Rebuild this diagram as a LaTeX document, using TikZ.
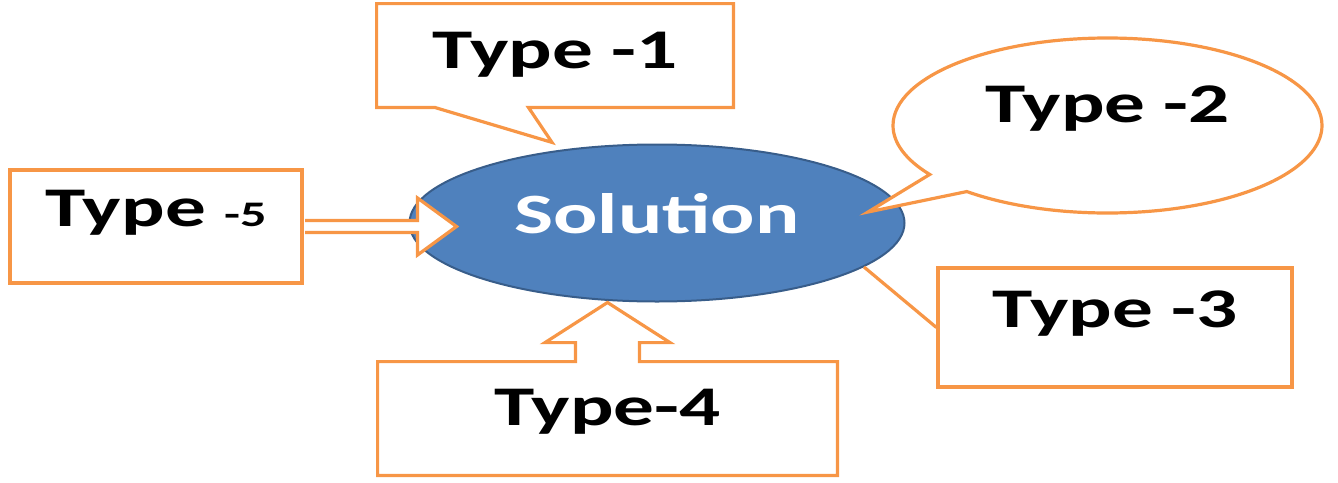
\documentclass[tikz,border=0pt]{standalone}
\usepackage{fontspec}
\setmainfont{Carlito}[FakeStretch=1.45]
\usetikzlibrary{calc,shapes.geometric,shapes.callouts}
\definecolor{calorange}{HTML}{F79646}
\definecolor{solblue}{HTML}{4F81BD}
\definecolor{soledge}{HTML}{385D8A}

\begin{document}
\begin{tikzpicture}[x=0.5pt, y=-0.5pt,
  every node/.style = {inner sep=0pt, font=\fontsize{28}{30}\selectfont\bfseries},
  outline/.style = {draw=calorange, line width=1.6pt, line join=miter},
  solution/.style = {ellipse, fill=solblue, draw=soledge, line width=1pt, text=white,
    font=\fontsize{28.5}{30}\selectfont\bfseries},
]
\useasboundingbox (0,0) rectangle (1338,482);

% centre
\node[solution, minimum width=247.5pt, minimum height=78.5pt,
  text height=16pt, text depth=6pt] (sol) at (657,223) {Solution};

% Type -1 (box with pointer)
\node[minimum width=178pt, minimum height=51.5pt,
  text height=18.5pt, text depth=6pt] (t1) at (555,55.5) {Type -1};
\coordinate (p1) at ($(t1.south)+(-3,35)$);
\draw[outline] (t1.south west) -- (t1.north west) -- (t1.north east) -- (t1.south east)
  -- ++(-205,0) -- (p1) -- ($(t1.south west)+(58,0)$) -- cycle;

% Type -2 (speech bubble)
\coordinate (p2) at (868,212);
\node[ellipse callout, outline, fill=white, callout absolute pointer={(p2)},
  minimum width=214.5pt, minimum height=87.5pt,
  text height=10pt, text depth=13.5pt] (t2) at (1107.5,125.5) {Type -2};

% Type -3 (line callout)
\node[outline, minimum width=177pt, minimum height=59.5pt,
  text height=12pt, text depth=12pt] (t3) at (1115,327.5) {Type -3};
\draw[outline] (sol.-12) -- (t3.west);

% Type-4 (up arrow callout)
\node[minimum width=229.5pt, minimum height=56.5pt,
  text height=15.5pt, text depth=9pt] (t4) at (607.5,418.5) {Type-4};
\draw[outline] (t4.north west) -- ($(t4.north)+(-32,0)$) -- ++(0,-19) -- ++(-30.5,0)
  -- (t4.north |- sol.south) -- ($(t4.north)+(62.5,-19)$) -- ++(-30.5,0) -- ++(0,19)
  -- (t4.north east) -- (t4.south east) -- (t4.south west) -- cycle;

% Type -5 (right arrow)
\node[outline, minimum width=146pt, minimum height=56.5pt,
  text height=12pt, text depth=12pt] (t5) at (156,226.5) {Type {\fontsize{18}{20}\selectfont -5}};
\coordinate (p5) at ($(t5.east -| sol.west)+(48,0)$);
\draw[outline, fill=white] ($(t5.east)+(1.6,-6)$) -- ($(p5)+(-39,-6)$) -- ++(0,-22.5) -- (p5)
  -- ($(p5)+(-39,28.5)$) -- ++(0,-22.5) -- ($(t5.east)+(1.6,6)$);
\end{tikzpicture}
\end{document}
